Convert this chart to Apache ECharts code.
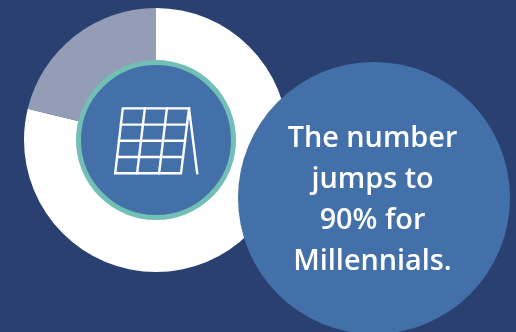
<!DOCTYPE html>
<html>
<head>
<meta charset="utf-8">
<style>
html,body{margin:0;padding:0;background:#2a4070;overflow:hidden}
#chart{width:516px;height:332px}
</style>
<script src="https://cdn.jsdelivr.net/npm/echarts@6/dist/echarts.min.js"></script>
</head>
<body>
<div id="chart"></div>
<script>
// Share of respondents, drawn clockwise from twelve o'clock
const shareNames = ['Yes', 'No'];
const shareValues = [78.8, 21.2];
const shareColors = ['#ffffff', '#939db6'];
const calloutLines = ['The number', 'jumps to', '90% for', 'Millennials.'];

const chart = echarts.init(document.getElementById('chart'), null, {renderer: 'canvas'});

// Solar panel icon: frame corners and the rows/columns of its cell grid
const panel = {tl: [122.8, 108.4], tr: [189, 108.4], br: [181, 173.2], bl: [115.2, 173.2], foot: [197.2, 173.2]};
const panelRows = 4, panelCols = 3;
const mix = (a, b, t) => [a[0] + (b[0] - a[0]) * t, a[1] + (b[1] - a[1]) * t];
const iconLine = {stroke: '#ffffff', lineWidth: 2.4, fill: null, lineJoin: 'miter', lineCap: 'square'};
const panelParts = [
  {type: 'polygon', z: 12, shape: {points: [panel.tl, panel.tr, panel.br, panel.bl]}, style: iconLine},
  {type: 'line', z: 12, shape: {x1: panel.tr[0], y1: panel.tr[1], x2: panel.foot[0], y2: panel.foot[1]}, style: iconLine}
];
for (let r = 1; r < panelRows; r++) {
  const a = mix(panel.tl, panel.bl, r / panelRows), b = mix(panel.tr, panel.br, r / panelRows);
  panelParts.push({type: 'line', z: 12, shape: {x1: a[0], y1: a[1], x2: b[0], y2: b[1]}, style: iconLine});
}
for (let c = 1; c < panelCols; c++) {
  const a = mix(panel.tl, panel.tr, c / panelCols), b = mix(panel.bl, panel.br, c / panelCols);
  panelParts.push({type: 'line', z: 12, shape: {x1: a[0], y1: a[1], x2: b[0], y2: b[1]}, style: iconLine});
}

const lineGap = 40.8, firstLineY = 139;

chart.setOption({
  backgroundColor: '#2a4070',
  animation: false,
  series: [{
    type: 'pie',
    center: [156, 140],
    radius: [0, 132],
    startAngle: 90,
    clockwise: true,
    silent: true,
    label: {show: false},
    labelLine: {show: false},
    data: shareNames.map((name, i) => ({
      name, value: shareValues[i], itemStyle: {color: shareColors[i]}
    }))
  }],
  graphic: [
    {type: 'circle', z: 10, shape: {cx: 156, cy: 140, r: 77.5},
      style: {fill: '#4370a9', stroke: '#72bfb5', lineWidth: 5}},
    ...panelParts,
    {type: 'circle', z: 14, shape: {cx: 374, cy: 198, r: 136}, style: {fill: '#4370a9'}},
    ...calloutLines.map((text, i) => ({
      type: 'text', z: 15, x: 372.5, y: firstLineY + i * lineGap,
      style: {
        text, fill: '#ffffff', align: 'center', verticalAlign: 'middle',
        font: '600 28.8px "Open Sans", sans-serif'
      }
    }))
  ]
});
</script>
</body>
</html>
